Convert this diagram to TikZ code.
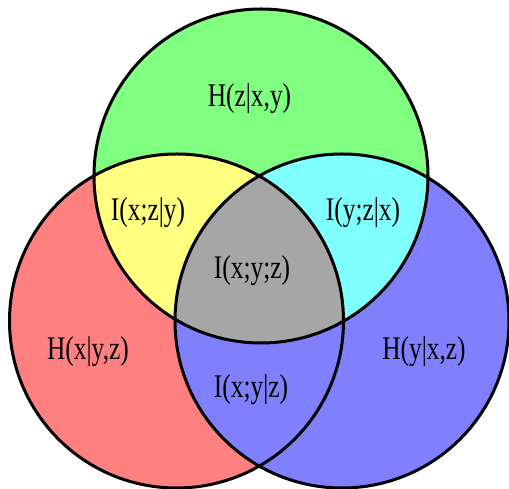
\documentclass[tikz,border=0pt]{standalone}
\usepackage{fontspec}
\newfontfamily\vfont[FakeStretch=0.77]{Liberation Serif}
\definecolor{cred}{HTML}{FF8080}
\definecolor{cgreen}{HTML}{80FF80}
\definecolor{cblue}{HTML}{8080FF}
\definecolor{cyellow}{HTML}{FFFF80}
\definecolor{ccyan}{HTML}{80FFFF}
\definecolor{cgray}{HTML}{A6A6A6}
\begin{document}
\begin{tikzpicture}[x=1pt,y=1pt,
  lbl/.style={anchor=base,inner sep=0pt,font=\vfont\fontsize{33}{40}\selectfont},
  ring/.style={draw=black,line width=3pt}]
\useasboundingbox (0,0) rectangle (509,489);
\def\cL{(176.5,168) circle (167pt)}
\def\cR{(342,168) circle (167pt)}
\def\cT{(261,313) circle (167pt)}
\fill[cred] \cL;
\fill[cblue] \cR;
\fill[cgreen] \cT;
\begin{scope}
  \clip \cT;
  \fill[cyellow] \cL;
  \fill[ccyan] \cR;
  \clip \cL;
  \fill[cgray] \cR;
\end{scope}
\draw[ring] \cL;
\draw[ring] \cR;
\draw[ring] \cT;
\node[lbl] (hz) at (249.5,382) {H(z|x,y)};
\node[lbl] (ixz) at (148,268) {I(x;z|y)};
\node[lbl] (iyz) at (363,268) {I(y;z|x)};
\node[lbl] (ixyz) at (252,210) {I(x;y;z)};
\node[lbl] (hx) at (88,129) {H(x|y,z)};
\node[lbl] (hy) at (424,129) {H(y|x,z)};
\node[lbl] (ixy) at (251,91) {I(x;y|z)};
\end{tikzpicture}
\end{document}
